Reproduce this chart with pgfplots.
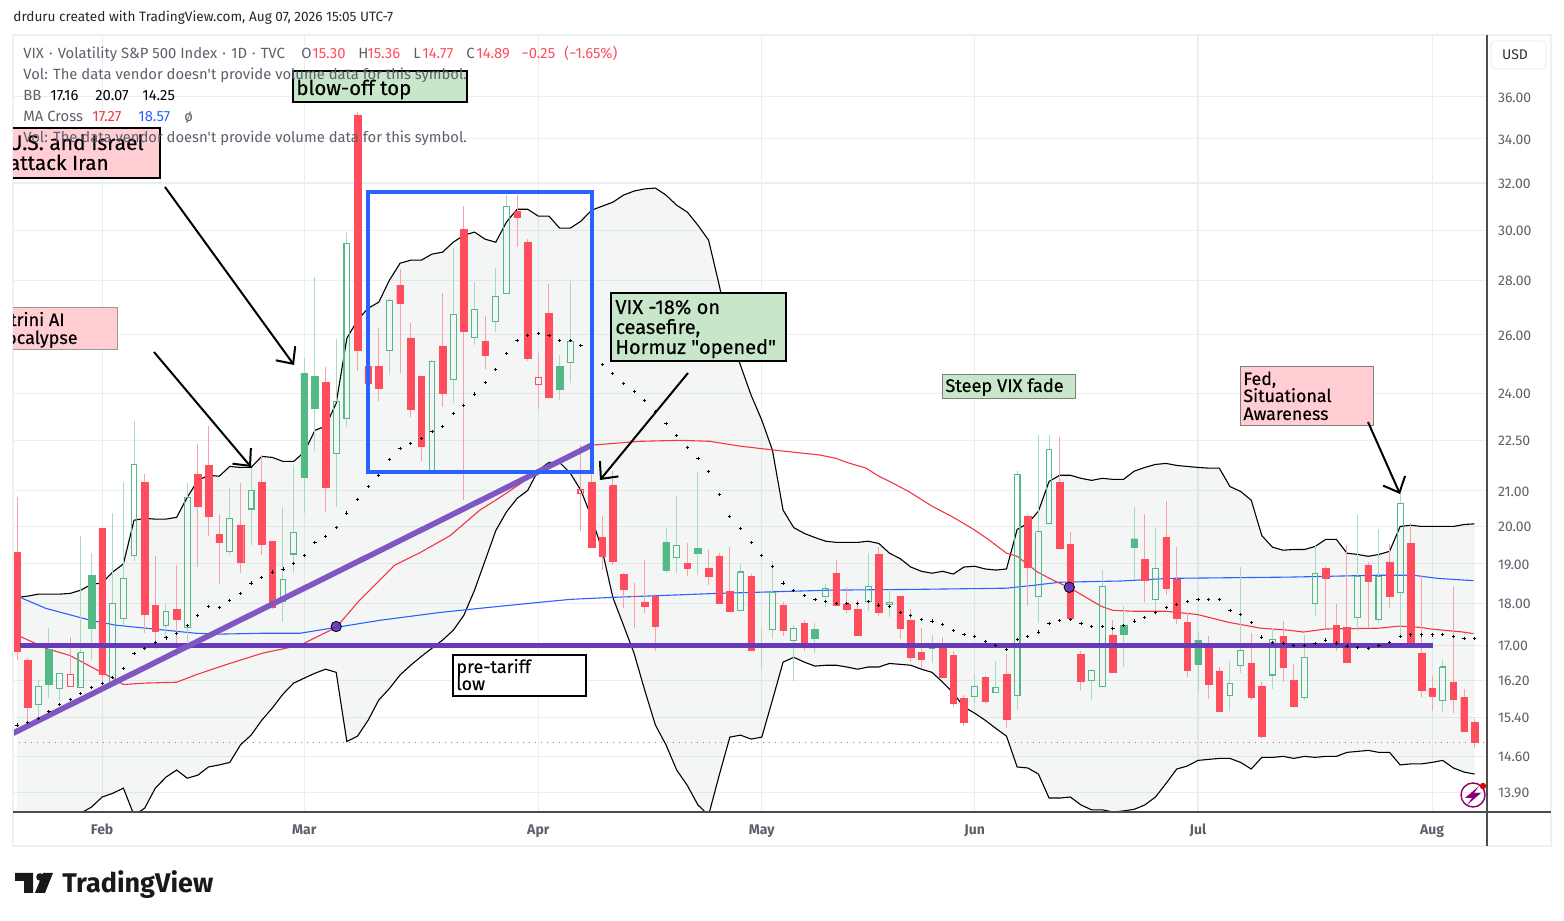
\documentclass[border=0pt]{standalone}
\usepackage{pgfplots}
\usepackage{pgfplotstable}
\usepackage{fontspec}
\pgfplotsset{compat=1.18}
\usepgfplotslibrary{fillbetween}
\usetikzlibrary{arrows.meta}
\setmainfont{Fira Sans}[Ligatures=TeXOff]
\newfontfamily\nf{Fira Sans}[Ligatures=TeXOff,FakeBold=0.35]
\definecolor{cred}{HTML}{FF4D5E}
\definecolor{wred}{HTML}{F7A1A9}
\definecolor{cgrn}{HTML}{53B987}
\definecolor{wgrn}{HTML}{A8DAC0}
\definecolor{gridc}{HTML}{E8EEF2}
\definecolor{txtc}{HTML}{5D606B}
\definecolor{ma1}{HTML}{F23645}
\definecolor{ma2}{HTML}{2962FF}
\definecolor{pur}{HTML}{673AB7}
\definecolor{purl}{HTML}{7E57C2}
\definecolor{notg}{HTML}{C8E6C9}
\definecolor{notr}{HTML}{FFCDD2}
\definecolor{bordc}{HTML}{EEF0F3}
\definecolor{bandc}{HTML}{6C8787}
\pgfplotstableread{
i o h l c k
0 19.30 20.81 16.67 16.86 0
1 16.65 16.70 15.30 15.62 0
2 15.68 16.20 15.38 16.07 2
3 16.90 17.40 15.81 16.11 1
4 16.02 16.36 15.74 16.36 2
5 16.07 17.19 16.05 16.34 3
6 16.05 19.73 16.05 16.83 2
7 18.71 19.28 16.67 17.40 1
8 19.95 19.95 16.09 16.34 0
9 16.16 20.37 16.16 18.00 2
10 17.64 21.24 17.47 18.63 2
11 19.22 23.10 19.07 21.77 2
12 21.24 21.48 17.28 17.73 0
13 17.96 19.20 16.90 17.33 0
14 17.47 17.98 17.17 17.81 2
15 17.86 18.97 16.76 17.61 0
16 17.42 21.21 17.07 20.81 2
17 21.48 22.38 18.92 20.56 0
18 21.74 22.94 19.75 20.28 0
19 19.78 20.34 18.48 19.57 0
20 19.33 21.09 19.22 20.22 2
21 20.03 21.21 18.76 19.04 0
22 20.48 21.66 19.49 21.01 2
23 21.24 22.05 19.22 19.52 0
24 19.60 19.62 17.86 17.90 0
25 18.05 20.53 17.54 18.61 2
26 19.26 21.74 18.76 19.84 2
27 24.66 25.20 20.37 21.39 1
28 24.56 28.12 22.17 23.51 1
29 24.36 24.86 20.40 21.10 0
30 22.11 25.84 20.53 23.73 2
31 23.19 29.92 22.91 29.47 2
32 35.12 35.27 24.73 25.45 0
33 24.89 24.89 24.33 24.33 0
34 24.89 26.23 23.73 24.16 0
35 25.45 27.33 24.59 27.25 2
36 27.82 28.44 24.66 27.14 0
37 25.87 26.41 23.22 23.47 0
38 24.56 24.56 21.86 22.32 0
39 21.60 25.10 21.54 25.07 2
40 25.59 27.52 23.54 24.00 0
41 24.46 29.27 23.67 26.74 2
42 30.04 31.00 20.73 26.12 0
43 25.91 27.94 25.62 26.92 2
44 25.76 26.66 24.79 25.27 0
45 26.48 28.48 26.09 27.40 2
46 27.52 31.47 27.52 31.00 2
47 30.79 31.47 29.31 30.53 0
48 29.51 29.63 25.07 25.17 0
49 24.30 25.34 23.47 24.53 3
50 26.78 27.86 23.87 23.87 0
51 24.89 25.27 23.77 24.13 1
52 25.03 27.98 24.33 25.76 2
53 20.93 22.35 19.89 21.04 3
54 21.24 21.60 19.44 19.44 0
55 19.70 20.28 18.84 19.20 0
56 21.15 21.57 18.97 19.07 0
57 18.74 18.76 17.88 18.35 0
58 18.19 18.51 17.40 18.17 0
59 18.03 19.09 17.76 17.93 0
60 18.18 18.23 16.86 17.45 0
61 19.57 19.97 18.76 18.84 1
62 19.17 20.84 18.76 19.49 2
63 19.02 19.54 18.68 18.89 0
64 19.41 21.54 18.71 19.28 1
65 18.89 19.36 18.45 18.68 0
66 19.20 19.28 18.00 18.00 0
67 18.30 19.44 17.78 17.81 0
68 17.83 19.00 17.83 18.79 2
69 18.68 18.74 16.86 16.88 0
70 17.00 17.40 16.45 16.95 1
71 17.37 19.07 17.14 18.28 2
72 17.96 18.03 17.21 17.35 0
73 17.12 17.47 16.18 17.40 2
74 17.52 17.59 16.86 17.05 0
75 17.38 17.52 16.81 17.17 1
76 18.18 18.48 17.90 18.38 2
77 18.76 19.09 17.96 17.96 0
78 17.98 18.40 17.76 17.86 0
79 17.86 18.08 17.21 17.24 0
80 18.05 19.28 17.81 18.43 2
81 19.25 19.44 17.69 17.78 0
82 17.98 18.38 17.66 18.03 2
83 18.18 18.18 17.14 17.40 0
84 17.59 17.86 16.61 16.72 0
85 16.83 17.40 16.47 16.67 0
86 16.93 17.24 16.58 17.00 2
87 17.00 17.19 16.27 16.27 0
88 16.76 16.86 15.62 15.70 0
89 15.81 15.87 15.21 15.30 0
90 15.85 16.34 15.70 16.07 2
91 16.27 16.29 15.70 15.74 0
92 15.94 16.63 15.94 16.05 2
93 16.34 16.79 15.17 15.36 0
94 15.87 21.57 15.55 21.48 2
95 20.28 20.34 17.93 18.92 0
96 18.18 22.65 17.52 19.86 2
97 20.08 22.65 20.08 22.23 2
98 21.24 22.59 19.36 19.41 0
99 19.52 19.84 17.59 17.64 0
100 16.79 16.86 15.98 16.18 0
101 16.20 16.45 15.77 16.43 2
102 16.07 18.84 16.05 18.43 2
103 17.24 17.59 16.36 16.38 0
104 17.47 17.93 16.50 17.26 1
105 19.67 20.53 18.61 19.44 1
106 19.12 20.34 18.03 18.58 0
107 18.10 19.95 17.71 18.89 2
108 19.70 20.70 18.20 18.38 0
109 18.61 19.44 17.49 17.64 0
110 17.54 17.76 16.27 16.43 0
111 17.12 17.31 15.96 16.56 1
112 17.05 17.21 15.79 16.11 0
113 16.41 16.50 15.53 15.53 0
114 15.87 16.63 15.53 16.14 2
115 16.54 18.92 16.36 16.88 2
116 16.58 17.28 15.77 15.83 0
117 16.07 16.16 14.97 15.01 0
118 16.32 17.40 16.02 17.14 2
119 17.21 17.57 16.16 16.50 0
120 16.20 16.56 15.64 15.64 0
121 15.83 17.24 15.77 16.72 2
122 18.00 19.47 17.69 18.76 2
123 18.89 18.94 17.40 18.63 0
124 17.47 17.98 16.86 17.03 0
125 17.42 19.49 16.61 16.61 0
126 17.66 20.31 17.33 18.68 2
127 18.97 19.04 17.40 18.56 0
128 17.61 19.92 17.52 18.68 2
129 19.04 19.52 17.88 18.18 0
130 18.28 20.93 17.24 20.64 2
131 19.54 20.08 17.00 17.05 0
132 16.81 18.71 15.83 15.98 0
133 16.02 16.29 15.53 15.85 0
134 15.77 16.65 15.51 16.50 2
135 16.16 18.43 15.49 15.79 0
136 15.83 16.02 15.11 15.11 0
137 15.30 15.36 14.77 14.89 0
}\candles
\pgfplotstableread{
i u l b
0 18.15 12.84 15.24
1 18.18 12.95 15.30
2 18.23 13.06 15.38
3 18.23 13.17 15.53
4 18.23 13.27 15.68
5 18.25 13.38 15.79
6 18.33 13.51 15.92
7 18.48 13.62 16.05
8 18.51 13.81 16.14
9 18.79 13.88 16.27
10 19.00 13.98 16.47
11 20.17 13.47 16.81
12 20.22 13.60 16.93
13 20.20 13.98 17.07
14 20.20 14.19 17.17
15 20.25 14.33 17.28
16 20.81 14.17 17.47
17 21.30 14.23 17.71
18 21.45 14.39 17.93
19 21.42 14.43 17.90
20 21.71 14.48 18.08
21 21.68 14.83 18.25
22 21.68 15.03 18.51
23 22.01 15.34 18.66
24 21.98 15.60 18.79
25 21.86 15.90 18.87
26 21.86 16.14 19.02
27 22.14 16.25 19.22
28 22.81 16.36 19.57
29 22.94 16.45 19.73
30 23.67 16.38 19.97
31 25.87 14.90 20.37
32 26.52 15.01 20.76
33 26.96 15.34 21.12
34 27.18 15.77 21.45
35 28.01 16.02 21.92
36 28.67 16.32 22.26
37 28.79 16.54 22.41
38 28.79 16.74 22.56
39 29.03 16.93 22.78
40 29.11 17.12 22.94
41 29.51 17.35 23.35
42 29.79 17.71 23.60
43 29.92 18.33 23.97
44 29.63 19.09 24.36
45 29.51 19.89 24.79
46 30.33 20.40 25.34
47 30.87 20.78 25.80
48 30.87 21.01 25.98
49 30.58 21.60 26.05
50 30.58 21.83 25.98
51 30.08 21.83 25.80
52 30.08 21.51 25.80
53 30.37 21.01 25.62
54 30.83 20.25 25.27
55 31.00 19.36 24.96
56 31.17 18.15 24.66
57 31.47 17.47 24.33
58 31.65 16.81 24.06
59 31.74 15.98 23.77
60 31.78 15.24 23.41
61 31.47 14.83 23.03
62 31.04 14.33 22.65
63 30.75 14.03 22.29
64 30.20 13.66 21.95
65 29.59 13.47 21.57
66 27.82 14.23 20.90
67 25.98 14.99 20.28
68 24.93 15.03 19.95
69 23.93 14.95 19.57
70 23.13 14.99 19.22
71 22.20 15.77 18.94
72 20.45 16.61 18.51
73 19.97 16.72 18.33
74 19.81 16.61 18.20
75 19.70 16.52 18.10
76 19.60 16.54 18.05
77 19.57 16.54 18.00
78 19.57 16.50 18.00
79 19.57 16.45 18.00
80 19.60 16.50 18.05
81 19.54 16.50 17.96
82 19.28 16.58 17.93
83 19.14 16.56 17.78
84 18.92 16.54 17.71
85 18.81 16.45 17.61
86 18.76 16.38 17.57
87 18.81 16.16 17.49
88 18.74 15.92 17.35
89 18.92 15.62 17.26
90 18.94 15.49 17.21
91 18.87 15.34 17.09
92 18.84 15.17 17.00
93 18.87 15.01 16.90
94 19.92 14.39 17.14
95 20.08 14.37 17.21
96 20.42 14.25 17.31
97 21.27 13.79 17.52
98 21.45 13.79 17.59
99 21.45 13.81 17.61
100 21.36 13.66 17.52
101 21.30 13.57 17.45
102 21.36 13.57 17.45
103 21.33 13.53 17.40
104 21.33 13.55 17.47
105 21.57 13.58 17.57
106 21.68 13.66 17.66
107 21.77 13.81 17.78
108 21.80 14.07 17.90
109 21.74 14.35 17.98
110 21.71 14.41 18.05
111 21.68 14.52 18.10
112 21.66 14.54 18.10
113 21.66 14.56 18.10
114 21.12 14.56 17.83
115 20.98 14.48 17.73
116 20.73 14.35 17.54
117 19.75 14.58 17.19
118 19.44 14.58 17.07
119 19.36 14.60 17.03
120 19.38 14.56 17.00
121 19.38 14.60 17.00
122 19.46 14.58 17.03
123 19.65 14.60 17.12
124 19.65 14.60 17.05
125 19.28 14.68 16.98
126 19.25 14.70 16.95
127 19.20 14.72 16.93
128 19.25 14.68 17.00
129 19.33 14.68 17.07
130 20.00 14.43 17.21
131 20.03 14.45 17.24
132 20.00 14.45 17.24
133 20.00 14.48 17.24
134 20.00 14.52 17.26
135 20.00 14.37 17.21
136 20.05 14.29 17.16
137 20.07 14.25 17.16
}\bands
\pgfplotstableread{
i v
0 17.24
2.7 16.93
5 16.76
7 16.50
9 16.25
10 16.11
12 16.14
15 16.16
17 16.34
20 16.58
23 16.81
26.6 17.00
30 17.42
32.2 18.08
35.5 18.97
37.9 19.30
40.7 19.75
43.5 20.45
45.4 20.81
49.2 21.60
53.9 22.35
58.6 22.47
62.3 22.50
65.1 22.47
68 22.32
71.2 22.20
75.5 22.05
77 21.95
78 21.83
79.8 21.66
81 21.42
82 21.27
83.8 20.98
86 20.56
88 20.25
89.9 19.92
91.2 19.67
93 19.28
94 19.20
95.9 18.79
97.4 18.58
99 18.38
101.9 17.93
103 17.83
104.9 17.81
107.9 17.81
110.9 17.73
113.9 17.54
116.9 17.40
119.6 17.35
120.9 17.31
123 17.38
128 17.40
129.9 17.45
131.9 17.42
132.9 17.38
135.9 17.31
136.9 17.27
}\mared
\pgfplotstableread{
i v
0.3 18.15
2.7 17.88
6.9 17.59
9.3 17.47
12.1 17.40
16.8 17.28
19.1 17.26
23.1 17.28
26.6 17.28
30 17.42
34.1 17.59
39.8 17.78
43.5 17.88
49.2 18.03
52 18.10
55.9 18.15
65.8 18.25
70 18.28
76.4 18.33
84.9 18.35
93 18.38
95.5 18.45
98 18.53
103.7 18.56
108.4 18.63
119.6 18.66
128.1 18.71
131.2 18.71
133.5 18.63
136.9 18.57
}\mablue
\newcommand\candle[1]{%
  \pgfplotstablegetelem{#1}{o}\of\candles\let\vo\pgfplotsretval
  \pgfplotstablegetelem{#1}{h}\of\candles\let\vh\pgfplotsretval
  \pgfplotstablegetelem{#1}{l}\of\candles\let\vl\pgfplotsretval
  \pgfplotstablegetelem{#1}{c}\of\candles\let\vc\pgfplotsretval
  \pgfplotstablegetelem{#1}{k}\of\candles\let\vk\pgfplotsretval
  \ifcase\vk\relax
    \def\wc{wred}\let\vt\vo\let\vb\vc\def\bst{fill=cred,draw=cred,line width=.2pt}\def\hw{0.31}%
  \or
    \def\wc{wgrn}\let\vt\vo\let\vb\vc\def\bst{fill=cgrn,draw=cgrn,line width=.2pt}\def\hw{0.31}%
  \or
    \def\wc{wgrn}\let\vt\vc\let\vb\vo\def\bst{fill=none,draw=cgrn,line width=.55pt}\def\hw{0.27}%
  \or
    \def\wc{wred}\let\vt\vc\let\vb\vo\def\bst{fill=none,draw=cred,line width=.55pt}\def\hw{0.27}%
  \fi
  \pgfmathsetmacro\xa{#1-\hw}\pgfmathsetmacro\xb{#1+\hw}%
  \edef\tmp{\noexpand\addplot[forget plot,draw=\wc,line width=.5pt,unbounded coords=jump]
     coordinates {(#1,\vh)(#1,\vt)(#1,nan)(#1,\vb)(#1,\vl)};
     \noexpand\addplot[forget plot,\bst,line join=miter]
     coordinates {(\xa,\vt)(\xb,\vt)(\xb,\vb)(\xa,\vb)(\xa,\vt)};}%
  \tmp
}
\begin{document}
\begin{tikzpicture}
\path (0,0) rectangle (782pt,460.5pt);
\begin{axis}[
  at={(6.5pt,54.5pt)},anchor=south west,
  scale only axis,width=737pt,height=388.5pt,
  ymode=log,xmin=-0.376,xmax=138.16,ymin=13.53,ymax=39.19,
  axis line style={draw=none},
  major tick length=0pt,
  tick style={draw=none},
  minor tick num=0,
  grid=major,
  grid style={line width=.55pt,color=gridc},
  xtick={8,27,49,70,90,111,133},
  xticklabels={Feb,Mar,Apr,May,Jun,Jul,Aug},
  xticklabel style={font=\fontsize{7}{8}\selectfont\bfseries,text=txtc,anchor=base,yshift=-11.2pt},
  ytick={13.9,14.6,15.4,16.2,17,18,19,20,21,22.5,24,26,28,30,32,34,36},
  yticklabels={13.90,14.60,15.40,16.20,17.00,18.00,19.00,20.00,21.00,22.50,24.00,26.00,28.00,30.00,32.00,34.00,36.00},
  yticklabel pos=right,
  yticklabel style={font=\fontsize{7}{8}\selectfont,text=txtc,anchor=west,xshift=2pt,yshift=-.4pt},
  clip=true,
]
\addplot[name path=upper,forget plot,black,line width=.55pt] table[x=i,y=u]{\bands};
\addplot[name path=lower,forget plot,black,line width=.55pt] table[x=i,y=l]{\bands};
\addplot[forget plot,fill=bandc,fill opacity=.075] fill between[of=upper and lower];
\addplot[forget plot,cred,line width=.5pt,dash pattern=on .6pt off 2.4pt] coordinates {(-0.376,14.89)(138.16,14.89)};
\addplot[forget plot,ma2,line width=.55pt] table[x=i,y=v]{\mablue};
\addplot[forget plot,ma1,line width=.55pt] table[x=i,y=v]{\mared};
\addplot[forget plot,only marks,mark=+,mark size=.8pt,mark options={black,line width=.45pt}] table[x=i,y=b]{\bands};
\pgfplotsinvokeforeach{0,...,137}{\candle{#1}}
\addplot[forget plot,only marks,mark=*,mark size=2.6pt,mark options={draw=none,fill=pur!90!blue,fill opacity=.9}] coordinates {(30,17.44)(98.9,18.40)};
\addplot[forget plot,pur,line width=2.5pt] coordinates {(0.3,17)(133.1,17)};
\addplot[forget plot,purl,line width=2.8pt] coordinates {(-0.376,15.07)(54,22.35)};
\end{axis}
\begin{scope}[shift={(0,460.5pt)},x=0.5pt,y=-0.5pt]
  % frame
  \draw[bordc,line width=1pt] (13,35) rectangle (1551,846);
  \draw[black!70,line width=.6pt] (13,812) -- (1551,812);
  \draw[black!70,line width=.6pt] (1487,35) -- (1487,846);
  % top caption
  \node[anchor=base west,inner sep=0,font=\fontsize{6.8}{8}\selectfont,text=black!85] at (13,22) {drduru created with TradingView.com, Aug 07, 2026 15:05 UTC-7};
  % USD
  \draw[bordc,line width=.6pt,rounded corners=2pt,fill=white] (1491,41) rectangle (1546,69);
  \node[inner sep=0,font=\fontsize{7}{8}\selectfont,text=black!80] at (1515,55) {USD};
  % annotations
  \begin{scope}
    \clip (13,35) rectangle (1487,812);
    \draw[draw=ma2,line width=2.4pt] (368,192) rectangle (592,472);
    \draw[black,line width=1pt,fill=notr] (5,128) rectangle (160,178);
    \node[overlay,anchor=base east,inner sep=0,font=\nf\fontsize{10.5}{11}\selectfont] at (144,150) {U.S. and Israel};
    \node[overlay,anchor=base east,inner sep=0,font=\nf\fontsize{10.3}{11}\selectfont] at (109,170) {attack Iran};
    \draw[black!40,line width=.4pt,fill=notr] (5,307) rectangle (117,349);
    \node[overlay,anchor=base east,inner sep=0,font=\nf\fontsize{9}{11}\selectfont] at (65,326) {Citrini AI};
    \node[overlay,anchor=base east,inner sep=0,font=\nf\fontsize{9}{11}\selectfont] at (78,344) {Apocalypse};
  \end{scope}
  \draw[black,line width=1pt,fill=notg] (293,71) rectangle (467,102);
  \node[anchor=base west,inner sep=0,font=\nf\fontsize{10.2}{11}\selectfont] at (296,95) {blow-off top};
  \draw[black,line width=1pt,fill=notg] (611,293) rectangle (786,361);
  \node[anchor=base west,inner sep=0,font=\nf\fontsize{10}{11}\selectfont] at (615,314) {VIX -18\% on};
  \node[anchor=base west,inner sep=0,font=\nf\fontsize{10}{11}\selectfont] at (615,334) {ceasefire,};
  \node[anchor=base west,inner sep=0,font=\nf\fontsize{10}{11}\selectfont] at (615,354) {Hormuz "opened"};
  \draw[black!50,line width=.4pt,fill=notg] (942,374) rectangle (1075,398);
  \node[anchor=base west,inner sep=0,font=\nf\fontsize{9.1}{11}\selectfont] at (945,392) {Steep VIX fade};
  \draw[black,line width=.6pt,fill=white] (453,655) rectangle (586,696);
  \node[anchor=base west,inner sep=0,font=\nf\fontsize{9}{11}\selectfont] at (456,673) {pre-tariff};
  \node[anchor=base west,inner sep=0,font=\nf\fontsize{9}{11}\selectfont] at (456,690) {low};
  \draw[black!50,line width=.4pt,fill=notr] (1240,366) rectangle (1373,425);
  \node[anchor=base west,inner sep=0,font=\nf\fontsize{8.9}{11}\selectfont] at (1243,385) {Fed,};
  \node[anchor=base west,inner sep=0,font=\nf\fontsize{8.9}{11}\selectfont] at (1243,402) {Situational};
  \node[anchor=base west,inner sep=0,font=\nf\fontsize{8.9}{11}\selectfont] at (1243,420) {Awareness};
  % arrows
  \tikzset{ann/.style={black,line width=1pt,-{Straight Barb[length=6.5pt,width=12pt,line width=1pt]}}}
  \draw[ann] (165,187) -- (294,365);
  \draw[ann] (154,352) -- (251,467);
  \draw[ann] (688,373) -- (600,480);
  \draw[ann] (1368,422) -- (1400,494);
  % legend
  \tikzset{lg/.style={anchor=base west,inner sep=0,font=\fontsize{7.4}{8}\selectfont,text=txtc}}
  \node[lg] at (23,59) {VIX\hspace{.6pt} · \hspace{.6pt}Volatility S\&P 500 Index\hspace{.6pt} · \hspace{.6pt}1D\hspace{.6pt} · \hspace{.6pt}TVC};
  \node[lg] at (301,59) {O}; \node[lg,text=cred] at (312,59) {15.30};
  \node[lg] at (358,59) {H}; \node[lg,text=cred] at (367,59) {15.36};
  \node[lg] at (413,59) {L}; \node[lg,text=cred] at (422,59) {14.77};
  \node[lg] at (466,59) {C}; \node[lg,text=cred] at (476,59) {14.89};
  \node[lg,text=cred] at (521,59) {−0.25};
  \node[lg,text=cred] at (564,59) {(−1.65\%)};
  \node[lg] at (23,80) {Vol: The data vendor doesn't provide volume data for this symbol.};
  \node[lg] at (23,101) {BB};
  \node[lg,text=black] at (50,101) {17.16};
  \node[lg,text=black] at (95,101) {20.07};
  \node[lg,text=black] at (142,101) {14.25};
  \node[lg] at (23,122) {MA Cross};
  \node[lg,text=ma1] at (92,122) {17.27};
  \node[lg,text=ma2] at (138,122) {18.57};
  \node[lg] at (184,122) {ø};
  \node[lg] at (23,143) {Vol: The data vendor doesn't provide volume data for this symbol.};
  % bolt icon
  \begin{scope}
    \clip (1450,770) rectangle (1487,812);
    \draw[violet!80!purple,line width=.7pt] (1473,795) circle[radius=12];
    \fill[violet!80!purple] (1479,786) -- (1465,798) -- (1472,798) -- (1467,805) -- (1481,793) -- (1474,793) -- cycle;
  \end{scope}
  \fill[red!85!black] (1483,786) circle[radius=3.2];
  % logo
  \fill[black!90] (15,873) -- (33,873) -- (33,893) -- (24,893) -- (24,881) -- (15,881) -- cycle;
  \fill[black!90] (40,877) circle[radius=3.8];
  \fill[black!90] (43,873) -- (53,873) -- (45,893) -- (35,893) -- cycle;
  \node[anchor=base west,inner sep=0,font=\fontsize{13.5}{15}\selectfont\bfseries,text=black!90] at (62,893) {TradingView};
\end{scope}
\end{tikzpicture}
\end{document}
